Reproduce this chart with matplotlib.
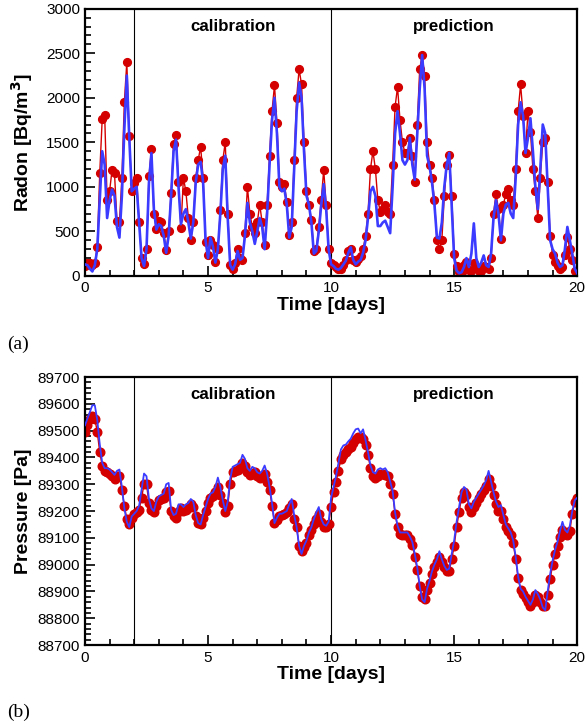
import numpy as np
import matplotlib
matplotlib.use("Agg")
import matplotlib.pyplot as plt
from matplotlib.ticker import MultipleLocator

plt.rcParams["font.family"] = ["Liberation Sans", "DejaVu Sans"]

# time grid of the readings (days)
t = np.round(np.arange(0, 201) * 0.1, 1)

# radon, measured (red dots) and model (blue line), Bq/m3
radon_meas = [
    110, 150, 140, 120, 150, 320, 1150, 1760, 1810, 850,
    950, 1190, 1150, 620, 600, 1100, 1950, 2400, 1570, 950,
    1040, 1100, 600, 200, 130, 300, 1120, 1420, 700, 530,
    620, 600, 480, 290, 500, 930, 1480, 1580, 1050, 540,
    1100, 950, 650, 400, 600, 1100, 1300, 1450, 1100, 380,
    230, 400, 350, 160, 300, 740, 1300, 1500, 700, 120,
    80, 150, 300, 200, 180, 480, 1000, 700, 550, 480,
    600, 800, 600, 350, 800, 1350, 1850, 2140, 1720, 1050,
    1000, 1030, 830, 460, 610, 1300, 2000, 2320, 2150, 1500,
    950, 800, 630, 280, 300, 550, 855, 1190, 800, 300,
    150, 125, 105, 80, 80, 120, 180, 280, 300, 180,
    160, 190, 220, 300, 450, 700, 1200, 1400, 1200, 850,
    720, 750, 800, 720, 700, 1250, 1900, 2120, 1750, 1500,
    1380, 1380, 1550, 1350, 1050, 1700, 2320, 2480, 2250, 1500,
    1250, 1100, 850, 400, 300, 400, 900, 1250, 1360, 900,
    250, 110, 40, 40, 120, 160, 70, 60, 150, 100,
    50, 50, 110, 100, 80, 200, 700, 920, 750, 420,
    800, 920, 980, 850, 800, 1200, 1850, 2150, 1800, 1380,
    1850, 1620, 1200, 950, 650, 1100, 1500, 1550, 1050, 450,
    230, 160, 110, 75, 100, 240, 440, 300, 180, 60,
    40,
]
radon_model = [
    130, 120, 80, 50, 120, 300, 850, 1400, 1250, 650,
    850, 970, 900, 550, 430, 900, 1650, 2250, 1550, 950,
    980, 1000, 600, 200, 110, 300, 1050, 1380, 750, 520,
    580, 560, 450, 260, 450, 900, 1400, 1530, 1000, 580,
    700, 750, 600, 420, 600, 1050, 1250, 1280, 1050, 400,
    200, 430, 330, 150, 300, 700, 1200, 1350, 650, 120,
    70, 130, 280, 180, 200, 450, 820, 600, 500, 360,
    500, 650, 550, 300, 700, 1250, 1750, 2000, 1600, 1000,
    950, 980, 800, 430, 550, 1200, 1850, 2170, 2000, 1400,
    900, 800, 600, 250, 280, 500, 800, 1030, 750, 300,
    130, 110, 80, 70, 90, 130, 170, 260, 320, 180,
    130, 160, 180, 260, 400, 650, 950, 1000, 900, 560,
    560, 600, 620, 550, 480, 1000, 1600, 1850, 1600, 1300,
    1250, 1300, 1550, 1250, 1080, 1600, 2100, 2480, 2100, 1350,
    1230, 1050, 800, 430, 420, 600, 1000, 1250, 1380, 800,
    200, 60, 30, 40, 100, 200, 100, 250, 590, 200,
    100, 150, 230, 120, 100, 250, 650, 850, 700, 400,
    700, 800, 820, 700, 650, 1100, 1700, 1950, 1800, 1380,
    1550, 1770, 1400, 1000, 750, 1200, 1700, 1600, 1000, 400,
    300, 250, 150, 100, 120, 300, 550, 400, 250, 80,
    30,
]

# pressure, measured (red dots) and model (blue line), Pa
pres_meas = [
    89495, 89520, 89545, 89555, 89545, 89495, 89420, 89370, 89350, 89345,
    89340, 89330, 89320, 89330, 89330, 89280, 89220, 89170, 89150, 89175,
    89190, 89195, 89205, 89250, 89300, 89300, 89230, 89205, 89195, 89220,
    89240, 89245, 89250, 89270, 89275, 89200, 89180, 89175, 89195, 89210,
    89200, 89205, 89210, 89225, 89215, 89180, 89155, 89150, 89175, 89200,
    89230, 89250, 89255, 89270, 89290, 89260, 89230, 89195, 89220, 89300,
    89345, 89350, 89355, 89360, 89380, 89370, 89345, 89335, 89340, 89345,
    89330, 89325, 89330, 89340, 89310, 89280, 89220, 89155, 89165, 89180,
    89185, 89190, 89195, 89210, 89225, 89170, 89140, 89070, 89050, 89065,
    89080, 89110, 89130, 89150, 89170, 89190, 89160, 89140, 89140, 89150,
    89215, 89270, 89310, 89350, 89395, 89410, 89420, 89430, 89440, 89455,
    89470, 89478, 89475, 89470, 89445, 89410, 89360, 89330, 89325, 89330,
    89340, 89340, 89335, 89330, 89300, 89265, 89190, 89140, 89115, 89110,
    89110, 89110, 89095, 89075, 89030, 88980, 88920, 88880, 88870, 88905,
    88930, 88965, 88990, 89010, 89030, 89010, 88990, 88975, 88975, 89020,
    89070, 89140, 89195, 89250, 89270, 89260, 89215, 89195, 89215, 89230,
    89250, 89265, 89280, 89295, 89320, 89295, 89260, 89225, 89200, 89200,
    89170, 89140, 89125, 89110, 89080, 89020, 88950, 88905, 88890, 88875,
    88860, 88845, 88860, 88885, 88880, 88860, 88845, 88845, 88885, 88945,
    89000, 89040, 89070, 89105, 89130, 89115, 89110, 89125, 89190, 89235,
    89250,
]
pres_model = [
    89520, 89545, 89570, 89595, 89595, 89540, 89450, 89380, 89360, 89360,
    89355, 89345, 89335, 89350, 89355, 89290, 89210, 89160, 89140, 89180,
    89190, 89200, 89220, 89280, 89340, 89330, 89245, 89210, 89200, 89235,
    89255, 89260, 89265, 89300, 89305, 89205, 89185, 89190, 89225, 89225,
    89215, 89225, 89230, 89245, 89235, 89185, 89155, 89150, 89185, 89215,
    89245, 89265, 89270, 89290, 89325, 89290, 89240, 89200, 89235, 89320,
    89365, 89370, 89375, 89380, 89410, 89395, 89360, 89350, 89365, 89360,
    89345, 89340, 89350, 89370, 89340, 89290, 89230, 89155, 89175, 89190,
    89190, 89195, 89200, 89225, 89245, 89185, 89140, 89070, 89040, 89070,
    89090, 89120, 89140, 89170, 89195, 89215, 89170, 89150, 89145, 89160,
    89250, 89290, 89330, 89380, 89430, 89445, 89448, 89460, 89470, 89490,
    89505, 89508, 89490, 89505, 89465, 89420, 89370, 89345, 89340, 89355,
    89360, 89355, 89360, 89345, 89310, 89275, 89195, 89145, 89120, 89120,
    89120, 89120, 89105, 89085, 89040, 88990, 88920, 88870, 88860, 88910,
    88940, 88975, 89000, 89020, 89050, 89020, 88995, 88980, 88985, 89040,
    89090, 89160, 89215, 89270, 89290, 89280, 89225, 89210, 89235, 89250,
    89265, 89280, 89295, 89315, 89350, 89310, 89270, 89235, 89215, 89222,
    89185, 89150, 89135, 89120, 89090, 89030, 88955, 88910, 88900, 88880,
    88865, 88850, 88870, 88905, 88890, 88870, 88840, 88830, 88900, 88965,
    89015, 89055, 89085, 89125, 89160, 89130, 89120, 89145, 89200, 89240,
    89250,
]

split_days = [2, 10]
red = "#d40000"
blue = "#3b3bff"

fig = plt.figure(figsize=(5.86, 7.28), dpi=100)
ax1 = fig.add_axes([0.145, 0.621, 0.84, 0.367])
ax2 = fig.add_axes([0.145, 0.114, 0.84, 0.368])


def style(ax):
    for s in ax.spines.values():
        s.set_linewidth(1.6)
    ax.set_xlim(0, 20)
    ax.xaxis.set_major_locator(MultipleLocator(5))
    ax.xaxis.set_minor_locator(MultipleLocator(1))
    ax.tick_params(which="both", direction="in", top=False, right=False,
                   labelsize=11, width=1.2)
    ax.tick_params(which="major", length=7)
    ax.tick_params(which="minor", length=4)
    ax.tick_params(axis="x", pad=4)
    for d in split_days:
        ax.axvline(d, color="black", lw=0.8, zorder=1)
    ax.text(6, 0.935, "calibration", transform=ax.get_xaxis_transform(),
            ha="center", va="center", fontsize=12.2, fontweight="bold")
    ax.text(15, 0.935, "prediction", transform=ax.get_xaxis_transform(),
            ha="center", va="center", fontsize=12.2, fontweight="bold")
    ax.set_xlabel("Time [days]", fontsize=14, fontweight="bold", labelpad=1)


# (a) radon
ax1.plot(t, radon_meas, color=red, lw=1.0, marker="o", ms=5.6, zorder=2)
ax1.plot(t, radon_model, color=blue, lw=1.9, zorder=3)
ax1.set_ylim(0, 3000)
ax1.yaxis.set_major_locator(MultipleLocator(500))
ax1.yaxis.set_minor_locator(MultipleLocator(100))
ax1.set_ylabel("Radon [Bq/m$^\\mathbf{3}$]", fontsize=14, fontweight="bold",
               labelpad=8)
style(ax1)

# (b) pressure
ax2.plot(t, pres_meas, color=red, lw=1.0, marker="o", ms=6.2, zorder=2)
ax2.plot(t, pres_model, color=blue, lw=1.3, zorder=3)
ax2.set_ylim(88700, 89700)
ax2.yaxis.set_major_locator(MultipleLocator(100))
ax2.yaxis.set_minor_locator(MultipleLocator(20))
ax2.set_ylabel("Pressure [Pa]", fontsize=14, fontweight="bold", labelpad=4)
style(ax2)

fig.text(0.012, 0.527, "(a)", fontsize=14, family=["Liberation Serif"],
         ha="left", va="center")
fig.text(0.012, 0.022, "(b)", fontsize=14, family=["Liberation Serif"],
         ha="left", va="center")

fig.savefig("out.png", dpi=100)
